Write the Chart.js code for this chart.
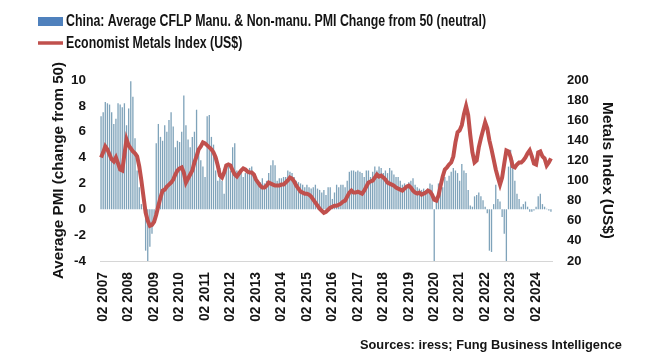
<!DOCTYPE html>
<html>
<head>
<meta charset="utf-8">
<script src="https://cdn.jsdelivr.net/npm/chart.js@4.4.1/dist/chart.umd.min.js"></script>
<style>
  html, body { margin: 0; padding: 0; background: #fff; }
</style>
</head>
<body>
<canvas id="chart" width="660" height="361"></canvas>
<script>
// monthly, Jan 2007 .. Sep 2024
const years = [2007, 2008, 2009, 2010, 2011, 2012, 2013, 2014, 2015,
  2016, 2017, 2018, 2019, 2020, 2021, 2022, 2023, 2024];
const months = ['01', '02', '03', '04', '05', '06', '07', '08', '09', '10', '11', '12'];

// average of CFLP manufacturing and non-manufacturing PMI, minus 50
const pmiChange = [
  7.2, 7.5, 8.3, 8.2, 8.1, 7.5, 6.6, 7.0, 8.2, 8.1, 7.9, 8.2,     // 2007
  6.5, 7.8, 9.9, 8.7, 5.5, 3.0, 1.7, 0.4, 0.1, -3.2, -4.0, -2.9,  // 2008
  -1.9, -0.9, 5.1, 6.6, 5.6, 5.3, 6.5, 6.0, 6.9, 7.5, 6.4, 4.8,   // 2009
  5.3, 5.2, 6.0, 8.8, 6.5, 5.4, 4.8, 5.6, 6.0, 7.7, 4.6, 3.8,     // 2010
  3.3, 2.5, 7.2, 7.3, 5.6, 5.0, 3.0, 2.2, 3.2, 2.2, 1.2, 3.2,     // 2011
  3.3, 3.0, 4.8, 5.1, 3.0, 2.7, 2.8, 2.5, 2.8, 3.0, 3.2, 3.3,     // 2012
  2.5, 2.4, 2.2, 2.1, 2.4, 2.0, 2.2, 2.8, 3.4, 3.8, 3.4, 2.2,     // 2013
  2.4, 2.4, 2.5, 2.5, 3.0, 2.9, 2.8, 2.5, 2.2, 2.1, 2.0, 1.9,     // 2014
  1.7, 1.9, 1.7, 1.6, 1.7, 1.9, 1.6, 1.5, 1.3, 1.5, 1.1, 1.7,     // 2015
  1.7, 0.8, 1.3, 1.9, 1.7, 1.9, 1.9, 1.7, 2.2, 2.9, 3.0, 3.0,     // 2016
  2.9, 3.0, 2.9, 2.8, 2.5, 3.0, 3.0, 2.5, 2.9, 3.3, 3.0, 3.3,     // 2017
  3.2, 2.8, 3.0, 2.8, 3.2, 3.0, 2.7, 2.5, 2.5, 2.2, 1.9, 2.0,     // 2018
  1.9, 2.1, 2.2, 2.4, 1.9, 1.7, 1.6, 1.5, 1.6, 1.5, 1.6, 2.0,     // 2019
  1.9, -4.0, 1.0, 2.0, 1.9, 1.7, 2.5, 2.2, 2.6, 2.9, 3.2, 3.0,    // 2020
  2.8, 2.2, 3.5, 3.0, 2.8, 1.5, 0.3, 0.2, 1.0, 1.1, 1.3, 1.0,     // 2021
  0.7, 0.2, -0.3, -3.2, -3.3, 0.4, 1.9, 0.8, 0.6, -0.6, -1.9, -4.0, // 2022
  3.3, 4.6, 3.8, 2.2, 1.2, 0.8, 0.2, 0.4, 0.6, 0.2, -0.2, -0.2,   // 2023
  -0.1, 0.2, 1.0, 1.2, 0.4, 0.2, 0.05, -0.1, -0.2                 // 2024
];

const metalsIndex = [
  123, 128, 134, 131, 126, 121, 119, 123, 117, 111, 110, 126,  // 2007
  141, 135, 132, 129, 127, 124, 114, 100, 84, 68, 60, 55,      // 2008
  56, 59, 66, 75, 83, 90, 91, 94, 96, 98, 101, 106,            // 2009
  110, 112, 113, 108, 98, 102, 106, 110, 118, 124, 131, 134,   // 2010
  138, 137, 135, 133, 131, 128, 123, 115, 105, 103, 108, 115,  // 2011
  116, 115, 110, 106, 104, 107, 110, 112, 111, 109, 108, 108,  // 2012
  106, 101, 98, 95, 93, 93, 95, 98, 97, 96, 95, 95,            // 2013
  95, 96, 96, 98, 100, 103, 102, 99, 95, 92, 89, 88,           // 2014
  87, 87, 86, 84, 81, 78, 75, 72, 70, 68, 69, 71,              // 2015
  73, 74, 75, 75, 76, 77, 79, 80, 84, 88, 90, 88,              // 2016
  88, 89, 88, 87, 90, 94, 98, 99, 100, 103, 106, 104,          // 2017
  105, 103, 101, 98, 97, 96, 95, 93, 92, 91, 90, 92,           // 2018
  94, 95, 93, 90, 88, 87, 88, 86, 87, 88, 90, 89,              // 2019
  86, 81, 80, 85, 95, 104, 111, 113, 116, 118, 124, 138,       // 2020
  148, 150, 155, 166, 174, 165, 145, 128, 118, 120, 133, 142,  // 2021
  150, 158, 152, 140, 131, 121, 111, 103, 96, 103, 117, 130,   // 2022
  129, 123, 114, 113, 116, 118, 118, 120, 123, 127, 130, 124,  // 2023
  117, 116, 128, 129, 124, 122, 115, 118, 122                  // 2024
];

const pmiTicks = { min: -4, max: 10, step: 2 };
const metalTicks = { min: 20, max: 200, step: 20 };

const monthLabels = [];
years.forEach(y => months.forEach(m => {
  if (monthLabels.length < pmiChange.length) monthLabels.push(m + ' ' + y);
}));

const barLabel = 'China: Average CFLP Manu. & Non-manu. PMI Change from 50 (neutral)';
const lineLabel = 'Economist Metals Index (US$)';
const source = 'Sources: iress; Fung Business Intelligence';

const FAMILY = '"Liberation Sans", Arial, sans-serif';
const INK = '#141414';

// pick a size so the text is as wide as in the picture
const meter = document.createElement('canvas').getContext('2d');
function sizeFor(text, width) {
  meter.font = 'bold 20px ' + FAMILY;
  return +(20 * width / meter.measureText(text).width).toFixed(1);
}

// draw text at a given size, squeezed sideways to a given width
function squeezed(c, text, x, y, size, width) {
  c.font = 'bold ' + size + 'px ' + FAMILY;
  const sx = width / c.measureText(text).width;
  c.save();
  c.translate(x, y);
  c.scale(sx, 1);
  c.fillText(text, 0, 0);
  c.restore();
  return sx;
}

const notes = {
  id: 'notes',
  afterDraw(chart) {
    const c = chart.ctx;
    c.save();
    c.fillStyle = '#4f81bd';
    c.fillRect(38, 17, 25, 9);
    c.strokeStyle = '#c0504d';
    c.lineWidth = 3.5;
    c.beginPath();
    c.moveTo(38, 43);
    c.lineTo(63, 43);
    c.stroke();

    c.fillStyle = INK;
    c.textBaseline = 'middle';
    c.font = 'bold 16px ' + FAMILY;
    const sx = 420 / c.measureText(barLabel).width;
    squeezed(c, barLabel, 66, 22, 16, 420);
    squeezed(c, lineLabel, 66, 44, 16, c.measureText(lineLabel).width * sx);

    c.textAlign = 'right';
    squeezed(c, source, 622, 345, 13, 262);
    c.restore();
  }
};

Chart.defaults.color = INK;
Chart.defaults.font.family = FAMILY;
Chart.defaults.font.weight = 'bold';

const ctx = document.getElementById('chart').getContext('2d');
new Chart(ctx, {
  type: 'bar',
  data: {
    labels: monthLabels,
    datasets: [
      {
        type: 'line',
        label: lineLabel,
        data: metalsIndex,
        yAxisID: 'yRight',
        borderColor: '#c0504d',
        borderWidth: 4,
        pointRadius: 0,
        tension: 0,
        order: 0
      },
      {
        type: 'bar',
        label: barLabel,
        data: pmiChange,
        yAxisID: 'yLeft',
        backgroundColor: '#7fa3ba',
        barPercentage: 0.62,
        categoryPercentage: 1,
        order: 1
      }
    ]
  },
  options: {
    responsive: false,
    animation: false,
    layout: { padding: { top: 80, left: 0, right: 0, bottom: 0 } },
    plugins: {
      legend: { display: false },
      tooltip: { enabled: false }
    },
    scales: {
      x: {
        grid: { display: false, drawTicks: false },
        border: { display: true, color: '#d6d6d6', width: 1 },
        ticks: {
          autoSkip: false,
          minRotation: 90,
          maxRotation: 90,
          padding: 11,
          font: { size: sizeFor('02 2007', 50) },
          callback(value) {
            const lab = monthLabels[value];
            return lab.startsWith('02 ') ? lab : null;
          }
        },
        afterFit(scale) { scale.height = 100; }
      },
      yLeft: {
        position: 'left',
        min: pmiTicks.min,
        max: pmiTicks.max,
        grid: { display: false, drawTicks: false },
        border: { display: false },
        ticks: { stepSize: pmiTicks.step, padding: 14, font: { size: 13.5 } },
        title: {
          display: true,
          text: 'Average PMI (change from 50)',
          padding: { top: 50, bottom: 0 },
          font: { size: sizeFor('Average PMI (change from 50)', 218) }
        },
        afterFit(scale) { scale.width = 100; }
      },
      yRight: {
        position: 'right',
        min: metalTicks.min,
        max: metalTicks.max,
        grid: { display: false, drawTicks: false },
        border: { display: false },
        ticks: { stepSize: metalTicks.step, padding: 15, font: { size: 13 } },
        title: {
          display: true,
          text: 'Metals Index (US$)',
          padding: { top: 44, bottom: 0 },
          font: { size: sizeFor('Metals Index (US$)', 137) }
        },
        afterFit(scale) { scale.width = 108; }
      }
    }
  },
  plugins: [notes]
});
</script>
</body>
</html>
